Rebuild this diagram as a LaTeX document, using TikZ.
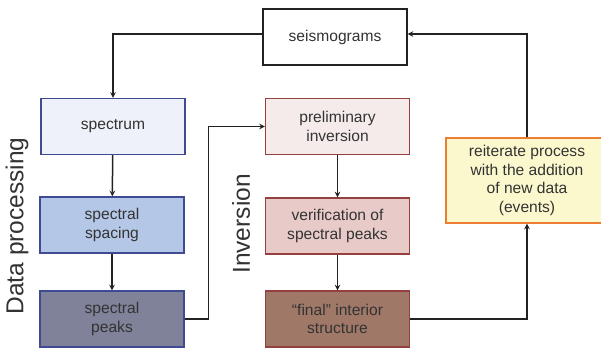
\documentclass[tikz,border=0pt]{standalone}
\usepackage{fontspec}
\setmainfont{Liberation Sans}
\usepackage{xcolor}
\usetikzlibrary{arrows.meta}
\definecolor{txtgray}{HTML}{333333}
\definecolor{linegray}{HTML}{222222}
\definecolor{specfill}{HTML}{EEF0FA}
\definecolor{spacefill}{HTML}{B4C7E7}
\definecolor{peakfill}{HTML}{7F8299}
\definecolor{bluedraw}{HTML}{3F4A92}
\definecolor{prelfill}{HTML}{F5EBEB}
\definecolor{verifill}{HTML}{E8CBC8}
\definecolor{finalfill}{HTML}{A07868}
\definecolor{reddraw}{HTML}{93403F}
\definecolor{reitfill}{HTML}{FCF8CE}
\definecolor{reitdraw}{HTML}{ED7D31}
\tikzset{>=stealth,
  box/.style={draw, line width=1.3pt, minimum width=144pt, minimum height=56pt,
    align=center, inner sep=0pt, text=txtgray, font=\fontsize{15.6}{18.6}\selectfont},
  link/.style={->, line width=1.5pt, draw=linegray},
  sidelabel/.style={rotate=90, text=txtgray, font=\fontsize{24.5}{28}\selectfont}
}

\begin{document}
\begin{tikzpicture}[x=1pt, y=-1pt]
\useasboundingbox (0,0) rectangle (601,348);
% boxes
\node[box, draw=linegray, fill=white] (seis) at (335,37) {seismograms};
\node[box, draw=bluedraw, fill=specfill] (spec) at (113,126.5) {spectrum};
\node[box, draw=bluedraw, fill=spacefill] (spacing) at (112,225) {spectral\\spacing};
\node[box, draw=bluedraw, fill=peakfill] (peaks) at (112,319) {spectral\\peaks};
\node[box, draw=reddraw, fill=prelfill] (prelim) at (337.5,126.5) {preliminary\\inversion};
\node[box, draw=reddraw, fill=verifill] (verif) at (337.5,226) {verification of\\spectral peaks};
\node[box, draw=reddraw, fill=finalfill] (final) at (337.5,319) {“final” interior\\structure};
\node[box, draw=reitdraw, fill=reitfill, minimum width=162pt, minimum height=85pt] (reit) at (527,180.5)
  {reiterate process\\with the addition\\of new data\\(events)};
% side labels
\node[sidelabel] (dproc) at (17,226) {Data processing};
\node[sidelabel] (inv) at (241,224) {Inversion};
% connectors
\draw[link] ([yshift=3pt]seis.west) -| (spec.north);
\draw[link] (spec) -- (spacing);
\draw[link] (spacing) -- (peaks);
\draw[link] (peaks.east) -- ++(24,0) |- (prelim.west);
\draw[link] (prelim) -- (verif);
\draw[link] (verif) -- (final);
\draw[link] (final.east) -| (reit.south);
\draw[link] (reit.north) |- ([yshift=3pt]seis.east);
\end{tikzpicture}
\end{document}
